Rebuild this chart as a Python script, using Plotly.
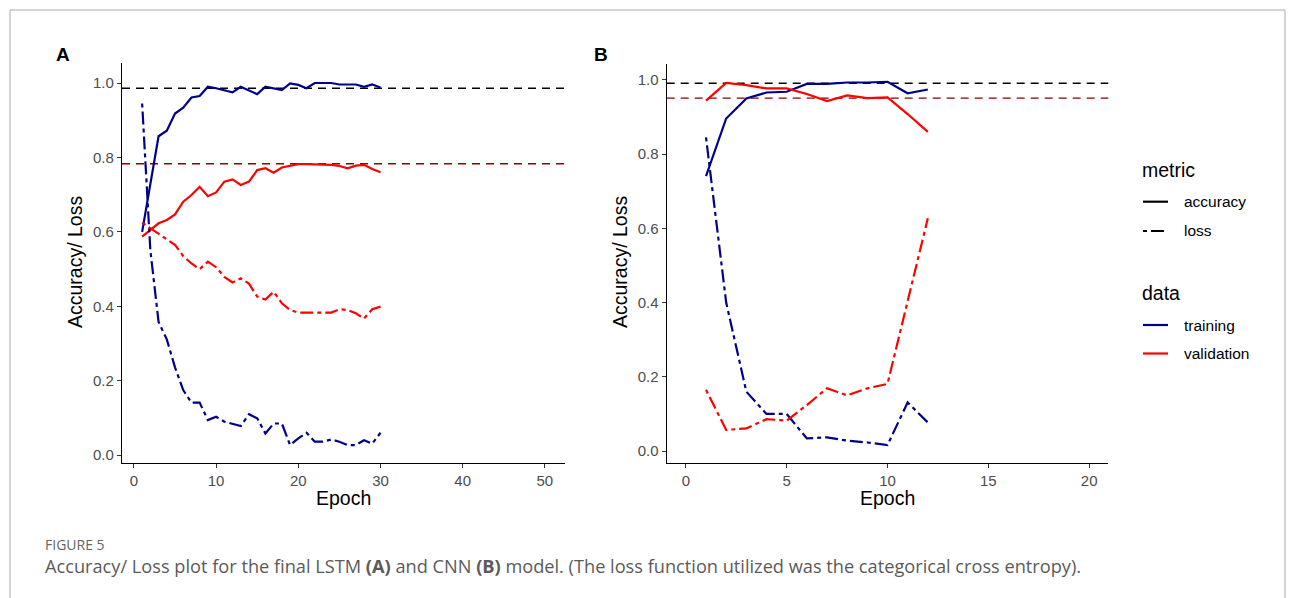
import plotly.graph_objects as go

# ---------------- data ----------------
epochs_a = list(range(1, 31))
lstm_train_acc = [0.600, 0.730, 0.857, 0.872, 0.918, 0.934, 0.961, 0.965, 0.990, 0.986,
                  0.981, 0.975, 0.990, 0.981, 0.970, 0.990, 0.986, 0.981, 0.999, 0.995,
                  0.986, 1.000, 1.000, 1.000, 0.996, 0.996, 0.996, 0.990, 0.996, 0.988]
lstm_val_acc = [0.587, 0.605, 0.623, 0.632, 0.647, 0.681, 0.699, 0.721, 0.696, 0.706,
                0.735, 0.741, 0.726, 0.735, 0.766, 0.771, 0.759, 0.773, 0.777, 0.782,
                0.782, 0.782, 0.780, 0.780, 0.777, 0.771, 0.778, 0.780, 0.769, 0.760]
lstm_train_loss = [0.945, 0.550, 0.358, 0.311, 0.236, 0.175, 0.141, 0.141, 0.094, 0.103,
                   0.090, 0.083, 0.078, 0.110, 0.099, 0.058, 0.085, 0.085, 0.027, 0.045,
                   0.060, 0.036, 0.036, 0.042, 0.036, 0.027, 0.027, 0.040, 0.031, 0.060]
lstm_val_loss = [0.625, 0.610, 0.595, 0.580, 0.565, 0.535, 0.515, 0.500, 0.520, 0.505,
                 0.479, 0.464, 0.475, 0.461, 0.426, 0.418, 0.439, 0.408, 0.390, 0.383,
                 0.383, 0.381, 0.383, 0.383, 0.392, 0.390, 0.381, 0.367, 0.392, 0.399]
lstm_ref_train = 0.986
lstm_ref_val = 0.783

epochs_b = list(range(1, 13))
cnn_train_acc = [0.741, 0.896, 0.950, 0.966, 0.968, 0.989, 0.989, 0.993, 0.993, 0.995, 0.964, 0.974]
cnn_val_acc = [0.944, 0.992, 0.986, 0.977, 0.977, 0.962, 0.943, 0.958, 0.951, 0.953, 0.908, 0.860]
cnn_train_loss = [0.845, 0.400, 0.160, 0.100, 0.100, 0.034, 0.037, 0.028, 0.023, 0.016, 0.131, 0.077]
cnn_val_loss = [0.165, 0.057, 0.061, 0.086, 0.082, 0.124, 0.169, 0.150, 0.169, 0.181, 0.404, 0.627]
cnn_ref_train = 0.991
cnn_ref_val = 0.951

xticks_a = [0, 10, 20, 30, 40, 50]
xticks_b = [0, 5, 10, 15, 20]
yticks = [0.0, 0.2, 0.4, 0.6, 0.8, 1.0]
ytick_labels = ["0.0", "0.2", "0.4", "0.6", "0.8", "1.0"]

# ---------------- style ----------------
OFF = 8  # page body margin of the browser
W, H = 1295 - OFF, 598 - OFF
FONT = "Liberation Sans, Arial, sans-serif"
CAP_FONT = "Open Sans, Liberation Sans, sans-serif"
NAVY = "#00008B"
RED = "#FF0000"
DARKRED = "#8B0000"
LOSS_DASH = "4px,4px,13px,4px"
REF_DASH = "8px,6px"


def px(x):
    return (x - OFF) / W


def py(y):
    return 1 - (y - OFF) / H


fig = go.Figure()


def add_panel(xa, ya, ep, tr_acc, va_acc, tr_loss, va_loss):
    for vals, col, dash in [(tr_acc, NAVY, "solid"), (va_acc, RED, "solid"),
                            (tr_loss, NAVY, LOSS_DASH), (va_loss, RED, LOSS_DASH)]:
        fig.add_trace(go.Scatter(x=ep, y=vals, mode="lines", xaxis=xa, yaxis=ya,
                                 line=dict(color=col, width=2.2, dash=dash),
                                 showlegend=False, hoverinfo="skip"))


add_panel("x", "y", epochs_a, lstm_train_acc, lstm_val_acc, lstm_train_loss, lstm_val_loss)
add_panel("x2", "y2", epochs_b, cnn_train_acc, cnn_val_acc, cnn_train_loss, cnn_val_loss)

# reference lines
for xr, yr, v, col in [("x domain", "y", lstm_ref_train, "black"),
                       ("x domain", "y", lstm_ref_val, DARKRED),
                       ("x2 domain", "y2", cnn_ref_train, "black"),
                       ("x2 domain", "y2", cnn_ref_val, DARKRED)]:
    fig.add_shape(type="line", xref=xr, yref=yr, x0=0, x1=1, y0=v, y1=v,
                  line=dict(color=col, width=1.4, dash=REF_DASH), layer="below")

axis_common = dict(showline=True, linecolor="black", linewidth=1.2, ticks="outside",
                   ticklen=4, tickwidth=1.1, tickcolor="#333333", showgrid=False,
                   zeroline=False, tickfont=dict(family=FONT, size=15, color="#4D4D4D"))

fig.update_layout(
    width=W, height=H,
    margin=dict(l=0, r=0, t=0, b=0, autoexpand=False),
    paper_bgcolor="white", plot_bgcolor="white",
    font=dict(family=FONT),
    xaxis=dict(domain=[px(122), px(565)], range=[-1.45, 52.45], tickvals=xticks_a,
               anchor="y", **axis_common),
    yaxis=dict(domain=[py(463.3), py(63.3)], range=[-0.022, 1.053], tickvals=yticks,
               ticktext=ytick_labels, anchor="x", **axis_common),
    xaxis2=dict(domain=[px(666.7), px(1108.3)], range=[-0.95, 20.95], tickvals=xticks_b,
                anchor="y2", **axis_common),
    yaxis2=dict(domain=[py(463.3), py(64.3)], range=[-0.033, 1.042], tickvals=yticks,
                ticktext=ytick_labels, anchor="x2", **axis_common),
)

ann = []


def text(x, y, s, size, color="black", xanchor="center", textangle=0, bold=False, family=FONT):
    ann.append(dict(x=px(x), y=py(y), xref="paper", yref="paper", text=(f"<b>{s}</b>" if bold else s),
                    showarrow=False, xanchor=xanchor, yanchor="middle", textangle=textangle,
                    font=dict(family=family, size=size, color=color)))


# axis titles
text(343.5, 498, "Epoch", 19.5)
text(887.5, 498, "Epoch", 19.5)
text(75, 262, "Accuracy/ Loss", 19.5, textangle=-90)
text(620, 262, "Accuracy/ Loss", 19.5, textangle=-90)
# panel tags
text(63, 55, "A", 19, bold=True)
text(601, 55, "B", 19, bold=True)

# legend
text(1140, 170, "metric", 19.5, xanchor="left")
text(1182, 201.7, "accuracy", 15.5, xanchor="left")
text(1182, 231, "loss", 15.5, xanchor="left")
text(1140, 293, "data", 19.5, xanchor="left")
text(1182, 325, "training", 15.5, xanchor="left")
text(1182, 353.5, "validation", 15.5, xanchor="left")
for yy, col, dash in [(201.7, "black", "solid"), (231, "black", LOSS_DASH),
                      (325, NAVY, "solid"), (353.5, RED, "solid")]:
    fig.add_shape(type="line", xref="paper", yref="paper", x0=px(1143), x1=px(1168),
                  y0=py(yy), y1=py(yy), line=dict(color=col, width=2.2, dash=dash))

# caption
text(43, 544, "FIGURE 5", 14, color="#666666", xanchor="left", family=CAP_FONT)
text(43, 566, "Accuracy/ Loss plot for the final LSTM <b>(A)</b> and CNN <b>(B)</b> model. "
     "(The loss function utilized was the categorical cross entropy).", 18.2,
     color="#5a5a5a", xanchor="left", family=CAP_FONT)

fig.update_layout(annotations=ann)

# figure border
fig.add_shape(type="rect", xref="paper", yref="paper", x0=px(10), x1=px(1285),
              y0=py(640), y1=py(10), line=dict(color="#AAAAAA", width=1))

fig.write_html("out.html")
